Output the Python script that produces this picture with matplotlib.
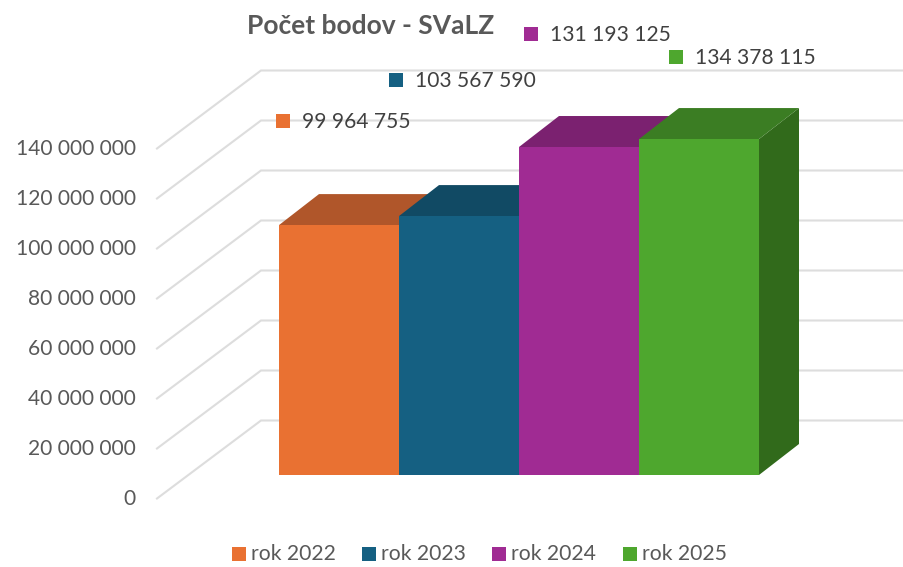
"""Pocet bodov - SVaLZ, 3D style column chart."""
import matplotlib
matplotlib.use('Agg')
import matplotlib.pyplot as plt
from matplotlib.patches import Polygon, Rectangle

W, H = 904, 567
plt.rcParams['font.family'] = ['Lato', 'DejaVu Sans']

years = ['rok 2022', 'rok 2023', 'rok 2024', 'rok 2025']
values = [99964755, 103567590, 131193125, 134378115]
value_labels = ['99 964 755', '103 567 590', '131 193 125', '134 378 115']
ticks = [0, 20000000, 40000000, 60000000, 80000000, 100000000, 120000000, 140000000]
tick_labels = ['0', '20 000 000', '40 000 000', '60 000 000', '80 000 000',
               '100 000 000', '120 000 000', '140 000 000']

front_col = ['#E97132', '#156082', '#A02B93', '#4EA72E']
top_col = ['#B0562A', '#114A64', '#7B2170', '#3B7D23']
side_col = ['#9A4A20', '#0E3F56', '#6A1C60', '#316A1B']
GRID = '#DDDDDD'
TEXT = '#595959'
LABEL = '#404040'

# one pixel in data units: a bar is 120 px wide, 20M is 50 px tall
PX_X = 1 / 120
PX_Y = 20000000 / 50
X0_PX, Y0_PX = 279, 475

fig = plt.figure(figsize=(W / 100, H / 100), dpi=100, facecolor='white')
ax = fig.add_axes([0, 0, 1, 1])
ax.set_xlim(-X0_PX * PX_X, (W - X0_PX) * PX_X)
ax.set_ylim(-(H - Y0_PX) * PX_Y, Y0_PX * PX_Y)
ax.axis('off')

# floor/wall grid, relative to the plane of the bars
fx, fy = (157 - X0_PX) * PX_X, (Y0_PX - 498.5) * PX_Y
bx, by = (261 - X0_PX) * PX_X, (Y0_PX - 420.5) * PX_Y
xmax = (W - X0_PX) * PX_X
for v, lab in zip(ticks, tick_labels):
    ax.plot([fx, bx, xmax], [v + fy, v + by, v + by], color=GRID, lw=1.5,
            solid_joinstyle='miter', zorder=1)
    ax.text((136 - X0_PX) * PX_X, v + fy - 0.5 * PX_Y, lab, ha='right', va='center',
            fontsize=15.1, color=TEXT)

dx, dy = 40 * PX_X, 31 * PX_Y
for i, v in enumerate(values):
    ax.add_patch(Polygon([(i + 1, 0), (i + 1 + dx, dy), (i + 1 + dx, v + dy), (i + 1, v)],
                         facecolor=side_col[i], edgecolor='none', zorder=2 + i))
    ax.add_patch(Polygon([(i, v), (i + dx, v + dy), (i + 1 + dx, v + dy), (i + 1, v)],
                         facecolor=top_col[i], edgecolor='none', zorder=2 + i))
    ax.bar(i, v, width=1, align='edge', color=front_col[i], zorder=2 + i)


def px_box(x, y, color):
    fig.add_artist(Rectangle((x / W, 1 - (y + 14) / H), 14 / W, 14 / H,
                             transform=fig.transFigure, facecolor=color, edgecolor='none'))


def px_text(x, y, s, **kw):
    fig.text(x / W, 1 - y / H, s, va='center', **kw)


# data labels were hand placed in the original
label_box = [(276, 114), (389, 73), (524, 27), (669, 50)]
for (x, y), s, c in zip(label_box, value_labels, front_col):
    px_box(x, y, c)
    px_text(x + 26, y + 8, s, ha='left', fontsize=15.1, color=LABEL)

legend_x = [232, 362, 492, 623]
for x, s, c in zip(legend_x, years, front_col):
    px_box(x, 547, c)
    px_text(x + 19, 554.5, s, ha='left', fontsize=15.2, color=TEXT)

px_text(371, 25.5, 'Počet bodov - SVaLZ', ha='center', fontsize=19, fontweight='bold', color=TEXT)

fig.savefig('out.png', dpi=100)
